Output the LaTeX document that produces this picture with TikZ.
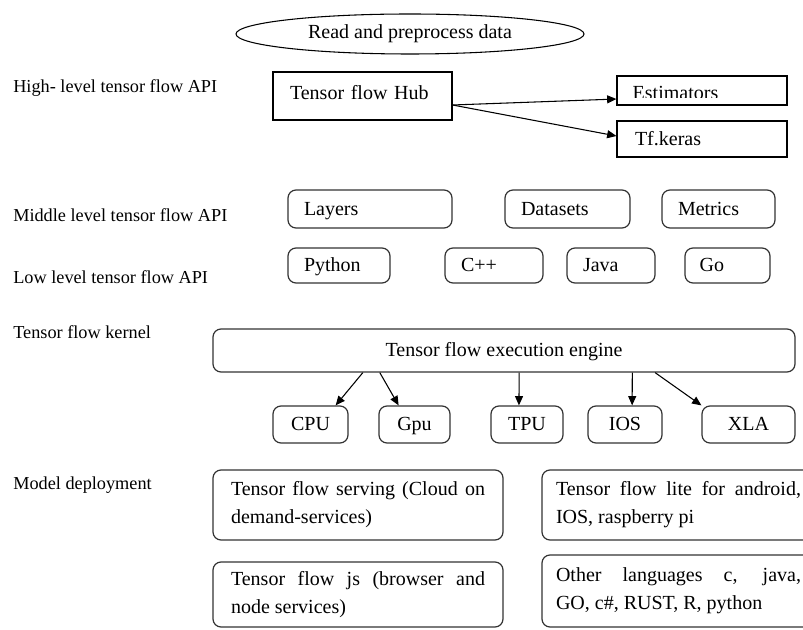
\documentclass[tikz,border=0pt]{standalone}
\usepackage{fontspec}
\setmainfont{Liberation Serif}
\usetikzlibrary{shapes.geometric, arrows.meta, calc}

\tikzset{
    sharpbox/.style={draw, line width=0.8pt, align=left, inner ysep=0pt},
    roundbox/.style={draw=black!80, line width=0.9pt, rounded corners=6pt,
        align=left, inner ysep=0pt},
    oneline/.style={text height=12pt, text depth=2.5pt},
    levellabel/.style={anchor=west, inner sep=0pt,
        font=\fontsize{13.7}{17}\selectfont},
    flow/.style={-{Triangle[length=7pt,width=6pt]}, line width=0.8pt},
}

\begin{document}
\begin{tikzpicture}[x=0.75pt, y=-0.75pt, font=\fontsize{15}{21}\selectfont]
        \pgfmathsetmacro{\labelX}{13}
        \pgfmathsetmacro{\midRow}{209}
        \pgfmathsetmacro{\lowRow}{265.5}
        \pgfmathsetmacro{\chipRow}{424.5}

        \clip (0, 0) rectangle (803, 630);

        \node[draw, ellipse, line width=0.8pt, minimum width=261pt,
            minimum height=30pt, inner sep=0pt] (read) at (410, 34)
            {Read and preprocess data};

        \node[levellabel] (high) at (\labelX, 88) {High- level tensor flow API};
        \node[levellabel] (middle) at (\labelX, 215) {Middle level tensor flow API};
        \node[levellabel] (low) at (\labelX, 277) {Low level tensor flow API};
        \node[levellabel] (kernel) at (\labelX, 332) {Tensor flow kernel};
        \node[levellabel] (deploy) at (\labelX, 485) {Model deployment};

        \node[sharpbox, text width=108.75pt, inner xsep=12.75pt,
            text height=10pt, text depth=5pt, minimum height=36pt]
            (hub) at (362.5, 96) {Tensor flow Hub};
        \node[sharpbox, minimum width=127.5pt, minimum height=21.75pt]
            (est) at (702, 90.5) {};
        \begin{scope}
            \clip ([yshift=-1pt]est.north west) rectangle ([yshift=6pt]est.south east);
            \node[anchor=base west, inner sep=0pt] (estText)
                at ([xshift=12pt, yshift=4.5pt]est.south west) {Estimators};
        \end{scope}
        \node[sharpbox, oneline, text width=100.5pt, inner xsep=13.5pt,
            minimum height=27pt] (keras) at (702, 139) {Tf.keras};

        \draw[flow] ([yshift=-6.75pt]hub.east) -- ([yshift=-6.4pt]est.west);
        \draw[flow] ([yshift=-6.75pt]hub.east) -- ([yshift=2.25pt]keras.west);

        \node[roundbox, oneline, text width=99pt, inner xsep=12pt, minimum height=28.5pt]
            (layers) at (370, \midRow) {Layers};
        \node[roundbox, oneline, text width=69.75pt, inner xsep=12pt, minimum height=28.5pt]
            (datasets) at (567.5, \midRow) {Datasets};
        \node[roundbox, oneline, text width=60.75pt, inner xsep=12pt, minimum height=28.5pt]
            (metrics) at (718.5, \midRow) {Metrics};

        \node[roundbox, oneline, text width=52.5pt, inner xsep=12pt, minimum height=26.25pt]
            (python) at (339, \lowRow) {Python};
        \node[roundbox, oneline, text width=49.5pt, inner xsep=12pt, minimum height=26.25pt]
            (cpp) at (494, \lowRow) {C++};
        \node[roundbox, oneline, text width=42pt, inner xsep=12pt, minimum height=26.25pt]
            (java) at (611, \lowRow) {Java};
        \node[roundbox, oneline, text width=41.75pt, inner xsep=11pt, minimum height=26.25pt]
            (go) at (727.5, \lowRow) {Go};

        \node[roundbox, oneline, align=center, minimum width=436.5pt, minimum height=32.25pt]
            (engine) at (504, 350.5) {Tensor flow execution engine};

        \node[roundbox, oneline, align=center, minimum width=56.25pt, minimum height=27.75pt]
            (cpu) at (310.5, \chipRow) {CPU};
        \node[roundbox, oneline, align=center, minimum width=53.25pt, minimum height=27.75pt]
            (gpu) at (414.5, \chipRow) {Gpu};
        \node[roundbox, oneline, align=center, minimum width=54pt, minimum height=27.75pt]
            (tpu) at (527, \chipRow) {TPU};
        \node[roundbox, oneline, align=center, minimum width=55.5pt, minimum height=27.75pt]
            (ios) at (625, \chipRow) {IOS};
        \node[roundbox, oneline, align=center, minimum width=69.75pt, minimum height=27.75pt]
            (xla) at (748.5, \chipRow) {XLA};

        \draw[flow] ($(engine.south west)!0.258!(engine.south east)$) --
            ($(cpu.north west)!0.83!(cpu.north east)$);
        \draw[flow] ($(engine.south west)!0.287!(engine.south east)$) --
            ($(gpu.north west)!0.28!(gpu.north east)$);
        \draw[flow] ($(engine.south west)!0.526!(engine.south east)$) --
            ($(tpu.north west)!0.39!(tpu.north east)$);
        \draw[flow] ($(engine.south west)!0.72!(engine.south east)$) --
            ($(ios.north west)!0.595!(ios.north east)$);
        \draw[flow] ($(engine.south west)!0.759!(engine.south east)$) --
            (xla.north west);

        \node[roundbox, align=justify, text width=190.5pt, inner xsep=13.5pt,
            minimum height=52.5pt] (serving) at (358, 505)
            {Tensor flow serving (Cloud on\linebreak demand-services)};
        \node[roundbox, align=justify, text width=190.5pt, inner xsep=13.5pt,
            minimum height=48.75pt] (js) at (358, 594.5)
            {Tensor flow js (browser and\linebreak node services)};
        \node[roundbox, align=justify, text width=183.75pt, inner xsep=10.5pt,
            minimum height=52.5pt] (lite) at (678.5, 505)
            {Tensor flow lite for android,\linebreak IOS, raspberry pi};
        \node[roundbox, align=justify, text width=183.75pt, inner xsep=10.5pt,
            minimum height=54pt] (other) at (678.5, 591)
            {Other languages c, java,\linebreak GO, c\#, RUST, R, python};
\end{tikzpicture}
\end{document}
